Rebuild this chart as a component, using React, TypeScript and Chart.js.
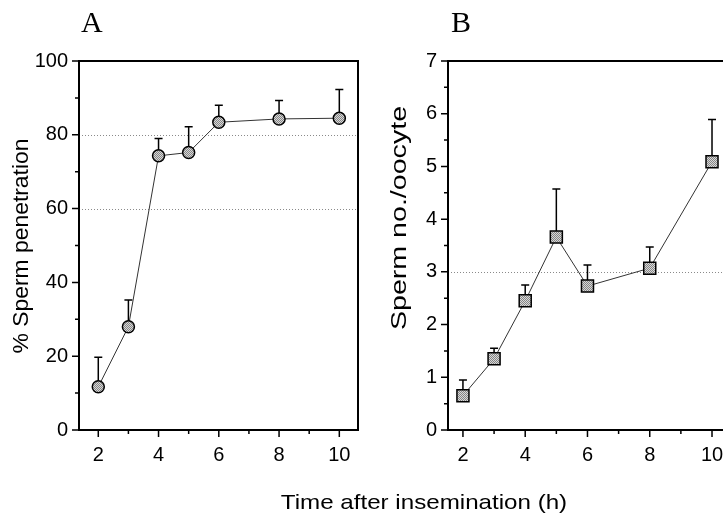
import React, { useEffect, useRef } from "react";
import { Chart, registerables } from "chart.js";

Chart.register(...registerables);

// ---------- data ----------
const hoursA = [2, 3, 4, 5, 6, 8, 10];
const penetration = [11.7, 28, 74.3, 75.2, 83.4, 84.3, 84.5];
const penetrationUpper = [19.7, 35.2, 79.0, 82.2, 88.0, 89.3, 92.3];

const hoursB = [2, 3, 4, 5, 6, 8, 10];
const spermPerOocyte = [0.65, 1.35, 2.45, 3.66, 2.73, 3.07, 5.09];
const spermUpper = [0.95, 1.55, 2.75, 4.57, 3.13, 3.47, 5.89];

const xMajorTicks = [2, 4, 6, 8, 10];
const xMinorTicks = [3, 5, 7, 9];
const yMajorTicksA = [0, 20, 40, 60, 80, 100];
const yMinorTicksA = [10, 30, 50, 70, 90];
const yMajorTicksB = [0, 1, 2, 3, 4, 5, 6, 7];
const yMinorTicksB = [0.5, 1.5, 2.5, 3.5, 4.5, 5.5, 6.5];
const refLinesA = [60, 80];
const refLinesB = [3];

const panelLabelA = "A";
const panelLabelB = "B";
const yTitleA = "% Sperm penetration";
const yTitleB = "Sperm no./oocyte";
const xTitle = "Time after insemination (h)";

const SANS = "'Liberation Sans', Arial, sans-serif";
const SERIF = "'Liberation Serif', 'Times New Roman', serif";

type TitleSpec = {
  text: string;
  x: number;
  y: number;
  rotate?: boolean;
  font: string;
  sx?: number;
  align?: CanvasTextAlign;
  baseline?: CanvasTextBaseline;
};

function makePattern(): CanvasPattern | string {
  const c = document.createElement("canvas");
  c.width = 2;
  c.height = 2;
  const g = c.getContext("2d");
  if (!g) return "#b0b0b0";
  g.fillStyle = "#d8d8d8";
  g.fillRect(0, 0, 2, 2);
  g.fillStyle = "#858585";
  g.fillRect(0, 0, 1, 1);
  g.fillRect(1, 1, 1, 1);
  return g.createPattern(c, "repeat") || "#b0b0b0";
}

const decorPlugin = {
  id: "decor",
  beforeDatasetsDraw(chart: any, _args: any, opts: any) {
    const { ctx, chartArea: a } = chart;
    const y = chart.scales.y;
    ctx.save();
    ctx.strokeStyle = "#8a8a8a";
    ctx.lineWidth = 1;
    ctx.setLineDash([1, 2]);
    for (const v of opts.refLines) {
      const py = Math.round(y.getPixelForValue(v)) + 0.5;
      ctx.beginPath();
      ctx.moveTo(a.left, py);
      ctx.lineTo(a.right, py);
      ctx.stroke();
    }
    ctx.setLineDash([]);
    const meta = chart.getDatasetMeta(0);
    ctx.strokeStyle = "#000";
    ctx.lineWidth = 1.5;
    meta.data.forEach((pt: any, i: number) => {
      const top = y.getPixelForValue(opts.upper[i]);
      ctx.beginPath();
      ctx.moveTo(pt.x, pt.y);
      ctx.lineTo(pt.x, top);
      ctx.moveTo(pt.x - 4, top);
      ctx.lineTo(pt.x + 4, top);
      ctx.stroke();
    });
    ctx.restore();
  },
  afterDatasetsDraw(chart: any, _args: any, opts: any) {
    const { ctx, chartArea: a } = chart;
    const x = chart.scales.x;
    const y = chart.scales.y;
    ctx.save();
    ctx.strokeStyle = "#000";
    ctx.lineWidth = 2;
    ctx.strokeRect(a.left, a.top, a.right - a.left, a.bottom - a.top);
    ctx.lineWidth = 1.5;
    ctx.beginPath();
    for (const v of opts.xMajor) {
      const px = x.getPixelForValue(v);
      ctx.moveTo(px, a.bottom);
      ctx.lineTo(px, a.bottom + 7);
    }
    for (const v of opts.xMinor) {
      const px = x.getPixelForValue(v);
      ctx.moveTo(px, a.bottom);
      ctx.lineTo(px, a.bottom + 4);
    }
    for (const v of opts.yMajor) {
      const py = y.getPixelForValue(v);
      ctx.moveTo(a.left, py);
      ctx.lineTo(a.left - 7, py);
    }
    for (const v of opts.yMinor) {
      const py = y.getPixelForValue(v);
      ctx.moveTo(a.left, py);
      ctx.lineTo(a.left - 4, py);
    }
    ctx.stroke();
    ctx.restore();
  },
  afterDraw(chart: any, _args: any, opts: any) {
    const { ctx } = chart;
    ctx.save();
    ctx.fillStyle = "#000";
    for (const t of opts.titles as TitleSpec[]) {
      ctx.save();
      ctx.font = t.font;
      ctx.textAlign = t.align || "center";
      ctx.textBaseline = t.baseline || "middle";
      ctx.translate(t.x, t.y);
      if (t.rotate) ctx.rotate(-Math.PI / 2);
      if (t.sx) ctx.scale(t.sx, 1);
      ctx.fillText(t.text, 0, 0);
      ctx.restore();
    }
    ctx.restore();
  },
};

function buildConfig(
  xs: number[],
  ys: number[],
  upper: number[],
  opts: {
    xMin: number;
    xMax: number;
    yMax: number;
    yMajor: number[];
    yMinor: number[];
    refLines: number[];
    yWidth: number;
    padRight: number;
    pointStyle: string;
    radius: number;
    titles: TitleSpec[];
    fill: CanvasPattern | string;
  }
): any {
  return {
    type: "line",
    data: {
      datasets: [
        {
          data: xs.map((h, i) => ({ x: h, y: ys[i] })),
          borderColor: "#333",
          borderWidth: 1,
          pointRadius: opts.radius,
          pointHoverRadius: opts.radius,
          pointStyle: opts.pointStyle,
          pointBackgroundColor: opts.fill,
          pointBorderColor: "#000",
          pointBorderWidth: 1.5,
          tension: 0,
          fill: false,
        },
      ],
    },
    options: {
      responsive: false,
      maintainAspectRatio: false,
      animation: false,
      events: [],
      layout: { padding: { left: 0, right: opts.padRight, top: 61, bottom: 0 } },
      scales: {
        x: {
          type: "linear",
          min: opts.xMin,
          max: opts.xMax,
          grid: { display: false, drawTicks: false },
          border: { display: false },
          ticks: {
            padding: 13,
            color: "#000",
            font: { family: SANS, size: 20 },
            maxRotation: 0,
          },
          afterBuildTicks: (s: any) => {
            s.ticks = xMajorTicks.map((v) => ({ value: v }));
          },
          afterFit: (s: any) => {
            s.height = 86;
          },
        },
        y: {
          type: "linear",
          min: 0,
          max: opts.yMax,
          grid: { display: false, drawTicks: false },
          border: { display: false },
          ticks: {
            padding: 11,
            color: "#000",
            font: { family: SANS, size: 20 },
          },
          afterBuildTicks: (s: any) => {
            s.ticks = opts.yMajor.map((v) => ({ value: v }));
          },
          afterFit: (s: any) => {
            s.width = opts.yWidth;
          },
        },
      },
      plugins: {
        legend: { display: false },
        tooltip: { enabled: false },
        decor: {
          refLines: opts.refLines,
          upper,
          xMajor: xMajorTicks,
          xMinor: xMinorTicks,
          yMajor: opts.yMajor,
          yMinor: opts.yMinor,
          titles: opts.titles,
        },
      },
    },
    plugins: [decorPlugin],
  };
}

export default function App() {
  const refA = useRef<HTMLCanvasElement>(null);
  const refB = useRef<HTMLCanvasElement>(null);

  useEffect(() => {
    if (!refA.current || !refB.current) return;
    const pattern = makePattern();
    const chartA = new Chart(
      refA.current,
      buildConfig(hoursA, penetration, penetrationUpper, {
        xMin: 1.36,
        xMax: 10.62,
        yMax: 100,
        yMajor: yMajorTicksA,
        yMinor: yMinorTicksA,
        refLines: refLinesA,
        yWidth: 79,
        padRight: 723 - 358,
        pointStyle: "circle",
        radius: 6,
        fill: pattern,
        titles: [
          { text: panelLabelA, x: 81, y: 32, font: `30px ${SERIF}`, align: "left", baseline: "alphabetic" },
          { text: yTitleA, x: 22, y: 246, rotate: true, font: `22px ${SANS}`, sx: 1.04 },
          { text: xTitle, x: 424, y: 503, font: `21px ${SANS}`, sx: 1.15 },
        ],
      })
    );
    const chartB = new Chart(
      refB.current,
      buildConfig(hoursB, spermPerOocyte, spermUpper, {
        xMin: 1.52,
        xMax: 10.61,
        yMax: 7,
        yMajor: yMajorTicksB,
        yMinor: yMinorTicksB,
        refLines: refLinesB,
        yWidth: 78,
        padRight: 39,
        pointStyle: "rect",
        radius: 8.5,
        fill: pattern,
        titles: [
          { text: panelLabelB, x: 451 - 370, y: 32, font: `30px ${SERIF}`, align: "left", baseline: "alphabetic" },
          { text: yTitleB, x: 400 - 370, y: 218, rotate: true, font: `22px ${SANS}`, sx: 1.3 },
        ],
      })
    );
    return () => {
      chartA.destroy();
      chartB.destroy();
    };
  }, []);

  return (
    <div
      style={{
        position: "fixed",
        left: 0,
        top: 0,
        width: 723,
        height: 516,
        overflow: "hidden",
        background: "#fff",
      }}
    >
      <canvas
        ref={refA}
        width={723}
        height={516}
        style={{ position: "absolute", left: 0, top: 0, width: 723, height: 516 }}
      />
      <canvas
        ref={refB}
        width={400}
        height={516}
        style={{ position: "absolute", left: 370, top: 0, width: 400, height: 516 }}
      />
    </div>
  );
}
